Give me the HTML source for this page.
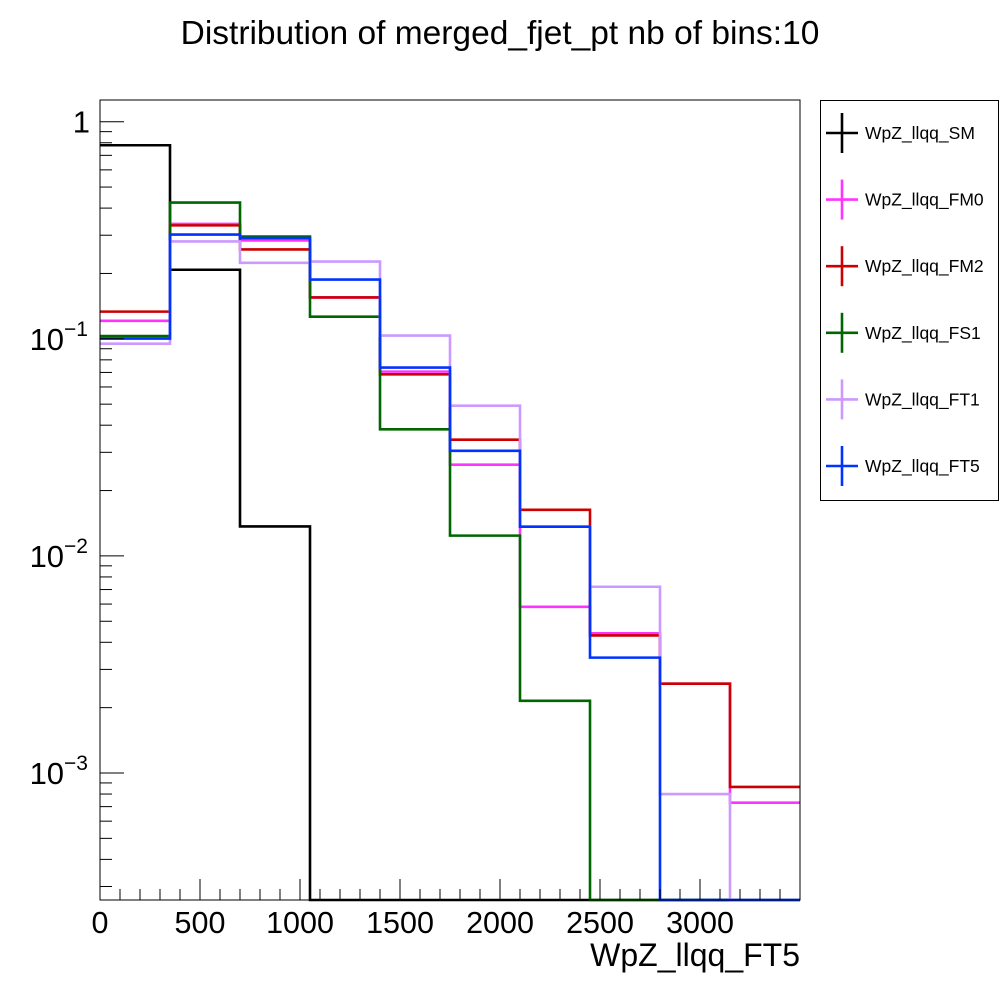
<!DOCTYPE html>
<html><head><meta charset="utf-8"><style>
html,body{margin:0;padding:0;background:#fff;}
svg{display:block;font-family:"Liberation Sans",Arial,sans-serif;}
</style></head><body>
<svg id="chart" width="1000" height="1000" viewBox="0 0 1000 1000">
<rect x="0" y="0" width="1000" height="1000" fill="#fff"/>
<text x="500" y="44" font-size="33.5" text-anchor="middle">Distribution of merged_fjet_pt nb of bins:10</text>
<g id="series"></g>
<rect x="100" y="100" width="700" height="800" fill="none" stroke="#000" stroke-width="1"/>
<g id="axes"></g>
<text x="800" y="966" font-size="32" text-anchor="end">WpZ_llqq_FT5</text>
<g id="legend">
<rect x="820.5" y="100.5" width="178" height="400" fill="#fff" stroke="#000" stroke-width="1"/>
</g>
</svg>
<script>
const binEdgesStart = 0;
const binWidth = 350;
const nBins = 10;
const seriesNames = ["WpZ_llqq_SM","WpZ_llqq_FM0","WpZ_llqq_FM2","WpZ_llqq_FS1","WpZ_llqq_FT1","WpZ_llqq_FT5"];
const seriesColors = ["#000000","#ff33ff","#cc0000","#006600","#cc99ff","#0033ff"];
const valsSM  = [0.779,0.208,0.01367,0,0,0,0,0,0,0];
const valsFM0 = [0.121,0.338,0.284,0.155,0.0706,0.0263,0.00583,0.0044,0.00258,0.00073];
const valsFM2 = [0.1334,0.333,0.258,0.155,0.0686,0.0343,0.0163,0.0043,0.00258,0.000863];
const valsFS1 = [0.103,0.424,0.296,0.1265,0.0383,0.0124,0.00215,0,0,0];
const valsFT1 = [0.095,0.281,0.224,0.227,0.1035,0.0492,0.01363,0.00721,0.0008,0];
const valsFT5 = [0.1002,0.302,0.291,0.1875,0.0737,0.0305,0.01363,0.0034,0,0];
const xTicks = [0,500,1000,1500,2000,2500,3000];
const yDecades = [0,-1,-2,-3];

const NS="http://www.w3.org/2000/svg";
const X0=100,X1=800,Y0=900,Y1=100;
const xMin=0,xMax=3500;
const logMin=-3.585,logMax=0.1;
function xs(v){return X0+(v-xMin)/(xMax-xMin)*(X1-X0);}
function ys(v){if(v<=0)return Y0;const l=Math.log10(v);const y=Y0-(l-logMin)/(logMax-logMin)*(Y0-Y1);return Math.min(Y0,y);}
function mk(tag,attrs,parent){const e=document.createElementNS(NS,tag);for(const k in attrs)e.setAttribute(k,attrs[k]);parent.appendChild(e);return e;}

const series=document.getElementById('series');
const allVals=[valsSM,valsFM0,valsFM2,valsFS1,valsFT1,valsFT5];
allVals.forEach((vals,si)=>{
  let d="";
  for(let i=0;i<nBins;i++){
    const xa=xs(binEdgesStart+i*binWidth), xb=xs(binEdgesStart+(i+1)*binWidth), y=ys(vals[i]);
    d+=(i===0?"M":"L")+xa+","+y+" L"+xb+","+y+" ";
  }
  const p=mk('path',{d:d,fill:"none",stroke:seriesColors[si],"stroke-width":"2.6"},series);
  
  
});

const axes=document.getElementById('axes');
for(let v=0;v<=3500;v+=100){
  const major=(v%500===0);
  const t=mk('line',{x1:xs(v),x2:xs(v),y1:Y0,y2:Y0-(major?21:11),stroke:"#000","stroke-width":"1"},axes);
  
  
}
xTicks.forEach(v=>{
  const t=mk('text',{x:xs(v),y:933,"font-size":"30.5","text-anchor":"middle"},axes);
  t.textContent=String(v);
  
  
});
for(let dec=-4;dec<=0;dec++){
  for(let m=1;m<=9;m++){
    const v=m*Math.pow(10,dec);
    const l=Math.log10(v);
    if(l<logMin||l>logMax)continue;
    const y=ys(v);
    const t=mk('line',{x1:X0,x2:X0+(m===1?24:12),y1:y,y2:y,stroke:"#000","stroke-width":"1"},axes);
    
    
  }
}
yDecades.forEach(d=>{
  const y=ys(Math.pow(10,d));
  const t=mk('text',{x:d===0?90:88,y:y+11,"font-size":"31","text-anchor":"end"},axes);
  if(d===0){t.textContent="1";}
  else{
    t.textContent="10";
    const s=mk('tspan',{"font-size":"21",dy:"-14"},t);
    s.textContent="\u2212"+(-d);
    t.setAttribute('x',88);
  }
  
  
});

const legend=document.getElementById('legend');
seriesNames.forEach((n,i)=>{
  const cy=133+i*66.6, cx=842;
  const g=mk('g',{},legend);
  
  
  mk('line',{x1:cx-16,x2:cx+16,y1:cy,y2:cy,stroke:seriesColors[i],"stroke-width":"2.6"},g);
  mk('line',{x1:cx,x2:cx,y1:cy-20,y2:cy+20,stroke:seriesColors[i],"stroke-width":"2.6"},g);
  const t=mk('text',{x:865,y:cy+6,"font-size":"17.5"},g);
  t.textContent=n;
});
</script>
</body></html>
